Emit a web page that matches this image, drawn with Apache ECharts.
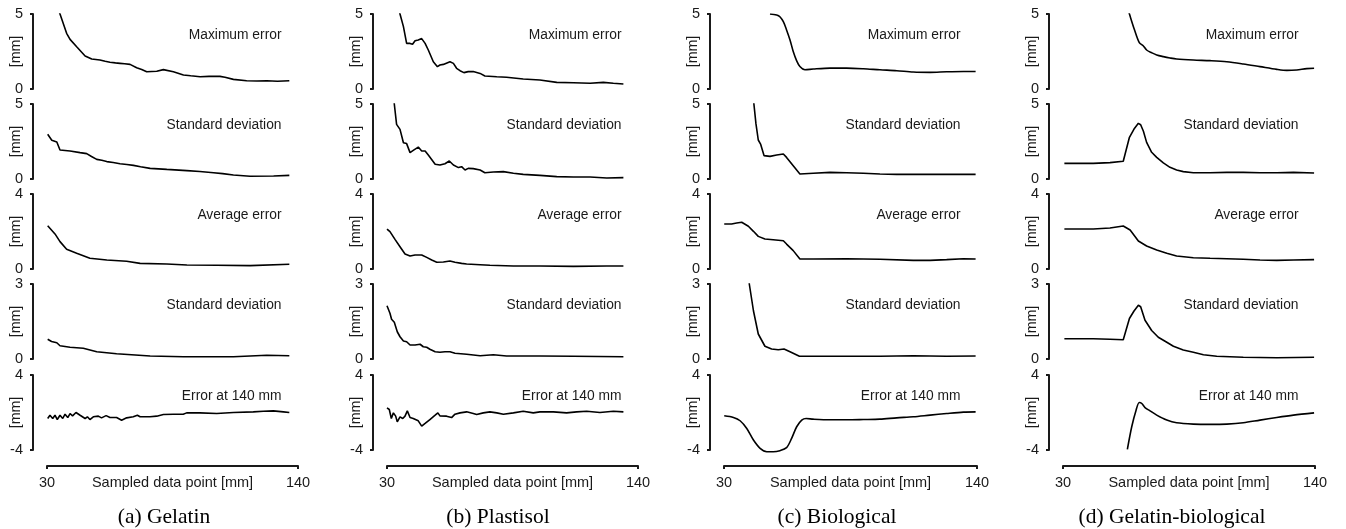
<!DOCTYPE html>
<html>
<head>
<meta charset="utf-8">
<title>Error vs sampled data point</title>
<script src="https://cdn.jsdelivr.net/npm/echarts@6/dist/echarts.min.js"></script>
<style>
html, body { margin: 0; padding: 0; background: #fff; }
#chart { width: 1346px; height: 529px; }
</style>
</head>
<body>
<div id="chart"></div>
<script>
// each series: [sampled data point (mm), value (mm)]
// (a) Gelatin
var gelMax = [[32.5,6.4],[35.7,5.0],[38.6,3.71],[40.1,3.31],[43.0,2.82],[46.7,2.2],[49.6,2.0],[53.2,1.93],[55.5,1.85],[57.6,1.78],[60,1.74],[62.0,1.71],[64,1.68],[66.4,1.64],[69.3,1.42],[71.5,1.3],[73.7,1.15],[78.1,1.18],[81.0,1.29],[85.4,1.15],[89.8,0.93],[93,0.88],[97.1,0.82],[101,0.84],[105.8,0.84],[108,0.78],[111.7,0.64],[117.5,0.55],[122,0.53],[126.3,0.55],[131,0.52],[136.2,0.55]];
var gelStd = [[30.3,2.98],[32.1,2.58],[34.3,2.47],[35.7,1.93],[40.1,1.87],[44.5,1.76],[47.4,1.69],[49.5,1.5],[51.8,1.31],[54,1.25],[56.2,1.16],[59,1.1],[62.0,1.02],[65,0.97],[67.9,0.91],[71,0.82],[75.2,0.71],[82.5,0.64],[91.3,0.56],[97,0.5],[103.0,0.42],[107,0.36],[111.7,0.27],[119.0,0.18],[129.3,0.2],[136.2,0.24]];
var gelAvg = [[30.3,2.31],[33.5,1.87],[35.7,1.46],[38.6,1.05],[43.0,0.84],[48.8,0.57],[56.2,0.48],[64.9,0.41],[70.8,0.30],[82.5,0.27],[91.3,0.21],[104.4,0.2],[119.0,0.18],[136.2,0.25]];
var gelAvgStd = [[30.3,0.79],[32.0,0.7],[32.8,0.67],[34.3,0.65],[35.7,0.53],[40.1,0.47],[45.9,0.43],[51.8,0.29],[60.5,0.21],[75.2,0.12],[89.8,0.09],[111.7,0.09],[126.3,0.15],[136.2,0.13]];
var gelErr = [[30.3,-0.64],[31.3,-0.29],[32.5,-0.64],[33.5,-0.29],[34.5,-0.75],[35.7,-0.29],[36.9,-0.64],[37.9,-0.18],[39.1,-0.54],[40.1,-0.11],[41.2,-0.36],[42.7,0.0],[44.5,-0.29],[46.7,-0.64],[47.7,-0.46],[48.8,-0.75],[50.3,-0.46],[52.5,-0.39],[53.9,-0.57],[55.9,-0.33],[57.6,-0.54],[60.5,-0.54],[62.7,-0.82],[64.9,-0.57],[67.8,-0.46],[69.6,-0.29],[70.8,-0.46],[75.1,-0.46],[78.1,-0.39],[81.0,-0.22],[85.4,-0.18],[89.7,-0.18],[91.2,-0.04],[97.0,-0.04],[104.4,-0.11],[111.7,0.0],[120.4,0.07],[124.8,0.14],[129.2,0.17],[133.6,0.07],[136.2,0.0]];

// (b) Plastisol
var plaMax = [[34.5,5.6],[35.7,5.0],[37.2,4.16],[38.6,3.04],[40.1,3.04],[41.2,2.98],[42.3,3.22],[43.7,3.27],[45.2,3.36],[46.7,3.04],[48.1,2.6],[50.3,1.82],[52.1,1.49],[53.2,1.6],[54.7,1.64],[57.6,1.82],[59.1,1.71],[60.5,1.38],[62.0,1.22],[63.7,1.09],[65.6,1.16],[67.8,1.16],[70.8,1.04],[72.9,0.87],[78.1,0.82],[82.4,0.78],[89.7,0.67],[97.0,0.6],[104.4,0.44],[111.7,0.42],[119.0,0.38],[124.8,0.44],[129.2,0.38],[133.6,0.33]];
var plaStd = [[32.9,5.8],[33.2,5.0],[34.2,3.64],[35.7,3.31],[37.2,2.42],[38.6,2.36],[40.1,1.76],[41.5,1.91],[43.7,2.13],[45.2,1.87],[46.7,1.87],[48.1,1.6],[51.1,0.98],[53.2,0.93],[55.4,1.02],[57.3,1.2],[59.1,0.93],[61.3,0.76],[62.7,0.82],[64.2,0.6],[65.6,0.71],[67.8,0.69],[70.8,0.6],[72.9,0.42],[76.6,0.47],[81.0,0.49],[85.4,0.38],[89.7,0.31],[97.0,0.24],[104.4,0.16],[111.7,0.13],[119.0,0.13],[126.3,0.07],[133.6,0.09]];
var plaAvg = [[30,2.13],[31.3,1.99],[33.5,1.58],[35.7,1.19],[37.9,0.8],[40.1,0.69],[42.3,0.75],[45.2,0.75],[47.4,0.62],[49.6,0.48],[51.8,0.36],[54.7,0.37],[57.6,0.43],[59.8,0.36],[62.7,0.3],[64.9,0.27],[70.8,0.23],[75.1,0.2],[85.4,0.16],[97.0,0.16],[111.7,0.14],[126.3,0.16],[133.6,0.16]];
var plaAvgStd = [[30,2.13],[31.3,1.83],[32.0,1.59],[33.2,1.47],[34.5,1.09],[35.7,0.89],[37.2,0.72],[38.6,0.69],[40.1,0.56],[42.3,0.56],[44.5,0.59],[45.9,0.49],[47.4,0.47],[48.8,0.39],[51.1,0.29],[53.2,0.27],[55.4,0.29],[57.6,0.29],[59.8,0.23],[64.9,0.19],[70.8,0.13],[76.6,0.17],[82.4,0.12],[97.0,0.12],[111.7,0.11],[133.6,0.09]];
var plaErr = [[30,0.49],[31.0,0.32],[31.9,-0.64],[32.8,-0.04],[33.8,-0.39],[34.5,-1.0],[35.7,-0.46],[36.9,-0.64],[37.9,-0.39],[38.9,0.17],[40.1,-0.54],[41.5,-0.64],[43.7,-0.89],[45.2,-1.46],[46.7,-1.17],[48.8,-0.75],[51.1,-0.29],[52.3,-0.04],[53.2,-0.36],[56.1,-0.39],[58.3,-0.54],[59.8,-0.18],[62.0,-0.04],[64.9,0.07],[67.8,-0.11],[69.3,-0.22],[72.2,-0.04],[75.1,0.07],[78.1,-0.04],[81.0,-0.18],[85.4,-0.04],[89.7,0.14],[94.1,-0.04],[97.0,0.07],[102.9,0.07],[108.7,-0.04],[113.1,0.07],[117.5,0.14],[123.3,0.0],[129.2,0.14],[133.6,0.07]];

// (c) Biological
var bioMax = [[50.0,5.0],[52.9,4.93],[54.3,4.82],[55.8,4.49],[57.2,3.94],[58.7,3.27],[60.1,2.5],[61.6,1.88],[63.0,1.5],[65.2,1.28],[68.8,1.33],[76.1,1.39],[83.3,1.39],[90.6,1.35],[97.8,1.28],[105.1,1.22],[112.3,1.13],[119.6,1.11],[126.8,1.15],[134.1,1.17],[139.4,1.17]];
var bioStd = [[42.85,5.3],[43.0,5.0],[43.9,3.67],[44.9,2.6],[45.9,2.33],[47.4,1.56],[50.0,1.51],[52.9,1.6],[55.8,1.67],[57.2,1.44],[60.1,0.89],[63.0,0.33],[68.8,0.38],[76.1,0.44],[83.3,0.42],[90.6,0.38],[97.8,0.33],[105.1,0.31],[112.3,0.31],[126.8,0.31],[139.4,0.31]];
var bioAvg = [[30.1,2.4],[33.3,2.4],[35.5,2.45],[37.7,2.49],[40.6,2.28],[42.8,2.01],[44.9,1.74],[47.8,1.6],[51.4,1.56],[55.8,1.51],[57.2,1.33],[60.1,0.98],[63.0,0.53],[68.8,0.53],[83.3,0.55],[97.8,0.52],[112.3,0.46],[119.6,0.46],[126.8,0.5],[134.1,0.55],[139.4,0.53]];
var bioAvgStd = [[40.9,3.2],[41.0,3.0],[42.8,1.93],[44.9,1.0],[47.8,0.51],[50.7,0.4],[53.6,0.37],[56.1,0.4],[58.7,0.29],[62.8,0.11],[68.8,0.11],[83.3,0.11],[97.8,0.11],[112.3,0.13],[126.8,0.11],[139.4,0.12]];
var bioErr = [[30.1,-0.35],[34.1,-0.53],[37.0,-0.88],[39.9,-1.7],[42.8,-2.94],[45.7,-3.82],[48.6,-4.18],[51.4,-4.18],[54.3,-4.07],[57.2,-3.75],[59.4,-2.76],[61.6,-1.52],[63.8,-0.81],[65.7,-0.64],[68.8,-0.71],[76.1,-0.78],[83.3,-0.78],[90.6,-0.75],[97.8,-0.71],[105.1,-0.57],[112.3,-0.46],[119.6,-0.28],[126.8,-0.11],[134.1,0.04],[139.4,0.07]];

// (d) Gelatin-biological
var gbMax = [[58.5,5.25],[59.0,5.0],[61.0,4.04],[63.3,3.09],[65.1,2.87],[66.5,2.6],[68.7,2.42],[70.9,2.27],[73.8,2.16],[76.7,2.07],[79.6,2.0],[86.9,1.93],[94.2,1.89],[101.5,1.82],[108.7,1.67],[116.0,1.49],[123.3,1.31],[127.7,1.24],[132.0,1.27],[136.4,1.36],[139.6,1.38]];
var gbStd = [[30.6,1.04],[36.0,1.04],[43.2,1.04],[50.5,1.09],[56.3,1.18],[59.0,2.78],[61.0,3.33],[62.9,3.71],[63.9,3.62],[65.1,3.18],[66.5,2.44],[68.7,1.78],[70.9,1.44],[73.8,1.07],[76.7,0.78],[79.6,0.6],[82.5,0.49],[86.9,0.42],[94.2,0.42],[101.5,0.44],[108.7,0.44],[116.0,0.42],[123.3,0.42],[130.6,0.44],[139.6,0.4]];
var gbAvg = [[30.6,2.13],[43.2,2.13],[50.5,2.19],[56.3,2.29],[59.3,2.08],[62.9,1.49],[66.5,1.23],[70.9,1.01],[75.3,0.84],[79.6,0.69],[86.9,0.6],[94.2,0.57],[101.5,0.55],[108.7,0.52],[116.0,0.48],[123.3,0.46],[130.6,0.48],[139.6,0.5]];
var gbAvgStd = [[30.6,0.81],[43.2,0.81],[50.5,0.79],[56.3,0.77],[59.0,1.62],[61.0,1.92],[62.9,2.15],[63.9,2.09],[65.8,1.55],[68.7,1.14],[71.6,0.87],[75.3,0.67],[78.2,0.51],[82.5,0.36],[86.9,0.27],[91.3,0.17],[97.1,0.11],[108.7,0.07],[123.3,0.05],[139.6,0.07]];
var gbErr = [[58.1,-3.93],[60.0,-1.52],[61.9,0.25],[63.3,1.06],[64.4,0.96],[65.8,0.53],[68.0,0.18],[70.9,-0.28],[75.3,-0.81],[79.6,-1.1],[86.9,-1.24],[94.2,-1.27],[101.5,-1.24],[108.7,-1.1],[116.0,-0.81],[123.3,-0.53],[130.6,-0.28],[139.6,-0.04]];

var rowNames = ['Maximum error', 'Standard deviation', 'Average error', 'Standard deviation', 'Error at 140 mm'];
var rowMin = [0, 0, 0, 0, -4];
var rowMax = [5, 5, 4, 3, 4];
var xTicks = [30, 140];
var captions = ['(a) Gelatin', '(b) Plastisol', '(c) Biological', '(d) Gelatin-biological'];

var columns = [
    [gelMax, gelStd, gelAvg, gelAvgStd, gelErr],
    [plaMax, plaStd, plaAvg, plaAvgStd, plaErr],
    [bioMax, bioStd, bioAvg, bioAvgStd, bioErr],
    [gbMax, gbStd, gbAvg, gbAvgStd, gbErr]
];

// layout (px)
var colLeft = [47, 387, 724, 1063];
var colWidth = [251, 251, 253, 252];
var captionX = [164, 498, 837, 1172];
var rowTop = [14, 104, 194, 284, 375];
var rowHeight = 75;

var font = 'Liberation Sans';
var ink = '#1a1a1a';

var grids = [], xAxes = [], yAxes = [], series = [], graphics = [];

for (var c = 0; c < columns.length; c++) {
    for (var r = 0; r < rowNames.length; r++) {
        var i = grids.length;
        var last = (r === rowNames.length - 1);
        grids.push({left: colLeft[c], top: rowTop[r], width: colWidth[c], height: rowHeight, outerBoundsMode: 'none'});
        xAxes.push({
            type: 'value', gridIndex: i, min: 30, max: 140, show: last, offset: 16,
            name: 'Sampled data point [mm]', nameLocation: 'middle', nameGap: 9, nameMoveOverlap: false,
            nameTextStyle: {fontFamily: font, fontSize: 14.5, color: ink, verticalAlign: 'top'},
            axisLine: {show: true, onZero: false, lineStyle: {color: ink, width: 2}},
            axisTick: {show: true, length: 3, customValues: xTicks, lineStyle: {color: ink, width: 2}},
            axisLabel: {customValues: xTicks, margin: 9, fontFamily: font, fontSize: 14.5, color: ink},
            splitLine: {show: false}
        });
        yAxes.push({
            type: 'value', gridIndex: i, min: rowMin[r], max: rowMax[r], offset: 14,
            name: '[mm]', nameLocation: 'middle', nameGap: 10, nameMoveOverlap: false,
            nameTextStyle: {fontFamily: font, fontSize: 14.2, color: ink},
            axisLine: {show: true, onZero: false, lineStyle: {color: ink, width: 2}},
            axisTick: {show: true, length: 3, customValues: [rowMin[r], rowMax[r]], lineStyle: {color: ink, width: 2}},
            axisLabel: {customValues: [rowMin[r], rowMax[r]], margin: 10, fontFamily: font, fontSize: 14.5, color: ink},
            splitLine: {show: false}
        });
        series.push({
            type: 'line', xAxisIndex: i, yAxisIndex: i,
            data: columns[c][r],
            symbol: 'none',
            smooth: (c >= 2 && (r === 0 || r === 4)) ? 0.3 : false,
            clip: !last,
            lineStyle: {color: '#000', width: 1.6}
        });
        graphics.push({
            type: 'text',
            x: colLeft[c] + colWidth[c] - 16.5,
            y: rowTop[r] + 21,
            style: {text: rowNames[r], align: 'right', verticalAlign: 'middle',
                font: '13.8px "Liberation Sans"', fill: ink}
        });
    }
    graphics.push({
        type: 'text', x: captionX[c], y: 517,
        style: {text: captions[c], align: 'center', verticalAlign: 'middle',
            font: '21.5px "Liberation Serif"', fill: '#000'}
    });
}

var myChart = echarts.init(document.getElementById('chart'));
myChart.setOption({
    animation: false,
    grid: grids,
    xAxis: xAxes,
    yAxis: yAxes,
    series: series,
    graphic: graphics
});
</script>
</body>
</html>
